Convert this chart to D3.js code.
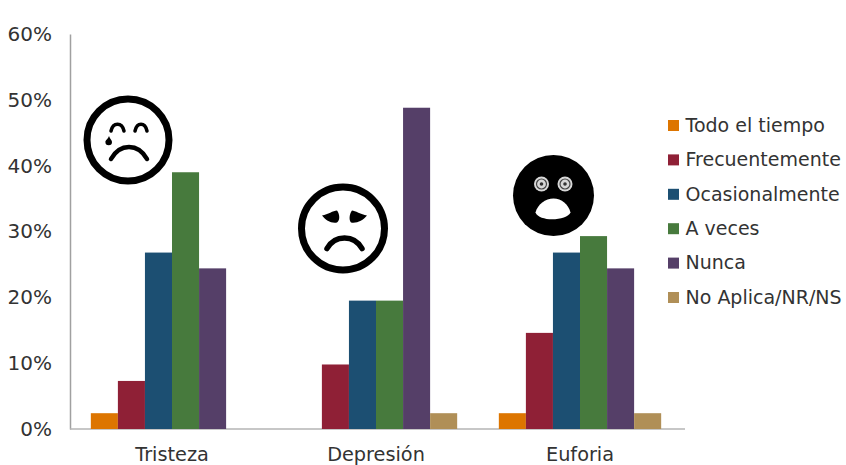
<!DOCTYPE html>
<html lang="es">
<head>
<meta charset="utf-8">
<script src="https://cdn.jsdelivr.net/npm/d3@7/dist/d3.min.js"></script>
<style>
  html, body { margin: 0; padding: 0; background: #fff; }
  svg { display: block; }
  text { font-family: "DejaVu Sans", Verdana, sans-serif; fill: #333; }
</style>
</head>
<body>
<svg id="chart" width="846" height="465"></svg>
<script>
const categories = ["Tristeza", "Depresión", "Euforia"];
const seriesNames = ["Todo el tiempo", "Frecuentemente", "Ocasionalmente", "A veces", "Nunca", "No Aplica/NR/NS"];
const seriesColors = ["#dd7500", "#8f2036", "#1c4f72", "#477a3d", "#553f68", "#b08f57"];
const todoElTiempo = [2.4, 0, 2.4];
const frecuentemente = [7.3, 9.8, 14.6];
const ocasionalmente = [26.8, 19.5, 26.8];
const aVeces = [39.0, 19.5, 29.3];
const nunca = [24.4, 48.8, 24.4];
const noAplica = [0, 2.4, 2.4];
const seriesValues = [todoElTiempo, frecuentemente, ocasionalmente, aVeces, nunca, noAplica];
const yTicks = [0, 10, 20, 30, 40, 50, 60];

const svg = d3.select("#chart");
const plot = { left: 70, right: 682, top: 34, bottom: 429 };

const x = d3.scaleBand().domain(categories).range([plot.left, plot.right]).paddingInner(0).paddingOuter(0);
const slot = d3.scaleBand().domain(seriesNames).range([0, x.bandwidth()]).paddingOuter(0.77);
const y = d3.scaleLinear().domain([0, 60]).range([plot.bottom, plot.top]);

// Axes sit underneath the bars
const yAxis = svg.append("g").attr("transform", `translate(${plot.left},0)`)
  .call(d3.axisLeft(y).tickValues(yTicks).tickSize(0).tickPadding(18).tickFormat(d => d + "%"));
yAxis.select(".domain").attr("stroke", "#a0a0a0").attr("stroke-width", 1.5);
yAxis.selectAll("text").attr("font-size", 20).attr("fill", "#333");

const xAxis = svg.append("g").attr("transform", `translate(0,${plot.bottom})`)
  .call(d3.axisBottom(x).tickSize(0).tickPadding(18));
xAxis.select(".domain").attr("stroke", "#b5b5b5").attr("stroke-width", 1.5)
  .attr("d", `M${plot.left},0H${plot.right + 3}`);
xAxis.selectAll("text").attr("font-size", 19.3).attr("fill", "#333");

// Bars, one group per category
const groups = svg.append("g").selectAll("g").data(categories).join("g")
  .attr("transform", d => `translate(${x(d)},0)`);
groups.selectAll("rect")
  .data((d, i) => seriesNames.map((name, s) => ({ name, color: seriesColors[s], value: seriesValues[s][i] })))
  .join("rect")
  .attr("x", d => slot(d.name))
  .attr("width", slot.bandwidth())
  .attr("y", d => y(d.value))
  .attr("height", d => y(0) - y(d.value))
  .attr("fill", d => d.color);

// Legend
const legendY = d3.scalePoint().domain(seriesNames).range([125.5, 297.5]);
const legend = svg.append("g").selectAll("g").data(seriesNames).join("g")
  .attr("transform", d => `translate(0,${legendY(d)})`);
legend.append("rect").attr("x", 668).attr("y", -5.5).attr("width", 11).attr("height", 11)
  .attr("fill", (d, i) => seriesColors[i]);
legend.append("text").attr("x", 685.5).attr("dy", "0.33em").attr("font-size", 19).text(d => d);

// Faces
function face(cx, cy, r, filled) {
  const g = svg.append("g").attr("transform", `translate(${cx},${cy})`);
  g.append("circle").attr("r", r).attr("fill", filled ? "#000" : "#fff")
    .attr("stroke", "#000").attr("stroke-width", filled ? 0 : 7);
  return g;
}
const stroke = (g, path, w) => g.append("path").attr("d", path).attr("fill", "none")
  .attr("stroke", "#000").attr("stroke-width", w).attr("stroke-linecap", "round");

// Crying face
const sad = face(128, 140, 41, false);
stroke(sad, "M-17,-9 C-15,-18 -6,-18 -4,-9", 3.5);
stroke(sad, "M7,-9 C9,-18 17,-18 19,-9", 3.5);
stroke(sad, "M-17,19 C-8,3 10,3 19,19", 4.5);
sad.append("path").attr("d", "M-19,-4 C-18,-1 -16,0 -16,2 A3.3,3.3 0 1 1 -22.6,2 C-22.6,0 -20,-1 -19,-4 Z").attr("fill", "#000");

// Depressed face
const down = face(343, 228.5, 41.5, false);
down.append("path").attr("d", "M-21,-13 C-15,-14 -10,-18 -6,-18 C-3,-14 -3,-8 -6,-6 C-12,-5 -17,-8 -21,-13 Z").attr("fill", "#000");
down.append("path").attr("d", "M24,-13 C18,-14 12,-18 9,-18 C6,-14 6,-8 8,-6 C14,-5 20,-8 24,-13 Z").attr("fill", "#000");
stroke(down, "M-16,20 C-8,6 11,6 19,20", 5.5);

// Stunned black face
const shock = face(553.5, 195.5, 40.5, true);
[-12, 11.5].forEach(ex => {
  shock.append("circle").attr("cx", ex).attr("cy", -11.5).attr("r", 7.5).attr("fill", "#d8d8d8");
  shock.append("circle").attr("cx", ex).attr("cy", -11.5).attr("r", 5).attr("fill", "none").attr("stroke", "#444").attr("stroke-width", 1.2);
  shock.append("circle").attr("cx", ex).attr("cy", -11.5).attr("r", 1.8).attr("fill", "#333");
});
shock.append("path").attr("d", "M-18,17 C-16,9 -8,3 0,3 C8,3 15,9 17,17 C14,25 -14,27 -18,17 Z").attr("fill", "#fff");
</script>
</body>
</html>
